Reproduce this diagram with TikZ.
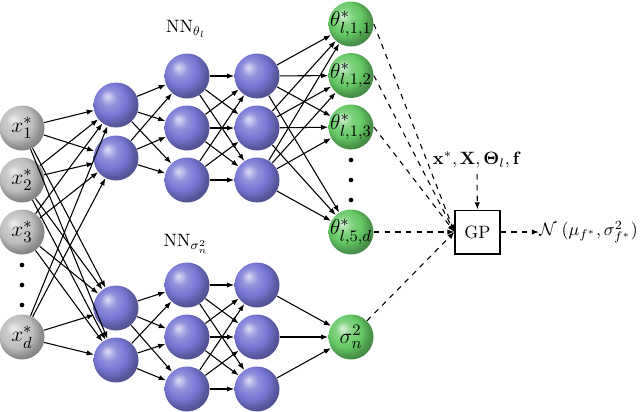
\documentclass[tikz,border=0pt]{standalone}
\usepackage{amsmath}
\usetikzlibrary{arrows.meta,shadings}
\definecolor{nnblue}{RGB}{118,118,212}
\definecolor{nngreen}{RGB}{100,200,100}
\definecolor{nngray}{RGB}{190,190,190}
\pgfdeclareradialshading{blueball}{\pgfqpoint{-10bp}{10bp}}{%
  color(0bp)=(nnblue!25!white); color(9bp)=(nnblue!80!white);
  color(18bp)=(nnblue); color(26bp)=(nnblue!75!black); color(50bp)=(nnblue!30!black)}
\pgfdeclareradialshading{greenball}{\pgfqpoint{-10bp}{10bp}}{%
  color(0bp)=(nngreen!25!white); color(9bp)=(nngreen!80!white);
  color(18bp)=(nngreen); color(26bp)=(nngreen!75!black); color(50bp)=(nngreen!30!black)}
\pgfdeclareradialshading{grayball}{\pgfqpoint{-10bp}{10bp}}{%
  color(0bp)=(nngray!25!white); color(9bp)=(nngray!80!white);
  color(18bp)=(nngray); color(26bp)=(nngray!75!black); color(50bp)=(nngray!30!black)}
\begin{document}
\begin{tikzpicture}[x=0.56pt,y=-0.56pt,
  ballbase/.style={circle,inner sep=0pt,minimum size=25.2pt},
  bball/.style={ballbase,shading=blueball},
  gball/.style={ballbase,shading=greenball},
  iball/.style={ballbase,shading=grayball},
  lbl/.style={font=\fontsize{13}{15}\selectfont,inner sep=0pt},
  dotnode/.style={circle,fill=black,inner sep=0pt,minimum size=2.6pt},
  con/.style={-{Latex[length=4pt,width=3pt]},line width=0.6pt},
  dcon/.style={con,dashed},
  gpbox/.style={draw,line width=0.6pt,minimum width=25.2pt,minimum height=24.6pt,inner sep=0pt}
]
\useasboundingbox (0,0) rectangle (640,411);

% inputs
\node[iball,label={[lbl]center:$x_1^*$}] (x1) at (22,128) {};
\node[iball,label={[lbl]center:$x_2^*$}] (x2) at (22,180) {};
\node[iball,label={[lbl]center:$x_3^*$}] (x3) at (22,232) {};
\node[iball,label={[lbl]center:$x_d^*$}] (xd) at (22,337) {};
\node[dotnode] (xa) at (22,265) {};
\node[dotnode] (xb) at (22,285) {};
\node[dotnode] (xc) at (22,305) {};

% top network
\node[bball] (a1) at (116,105) {};
\node[bball] (a2) at (116,158) {};
\node[bball] (b1) at (187,76) {};
\node[bball] (b2) at (187,128) {};
\node[bball] (b3) at (187,180) {};
\node[bball] (c1) at (257,76) {};
\node[bball] (c2) at (257,128) {};
\node[bball] (c3) at (257,180) {};
\node[gball,label={[lbl]center:$\theta_{l,1,1}^*$}] (t1) at (351,24) {};
\node[gball,label={[lbl]center:$\theta_{l,1,2}^*$}] (t2) at (351,75.5) {};
\node[gball,label={[lbl]center:$\theta_{l,1,3}^*$}] (t3) at (351,127) {};
\node[gball,label={[lbl]center:$\theta_{l,5,d}^*$}] (t4) at (351,232) {};
\node[dotnode] (ta) at (351,160) {};
\node[dotnode] (tb) at (351,180) {};
\node[dotnode] (tc) at (351,200) {};
\node (nnt) at (186,29) {NN$_{\theta_l}$};

% bottom network
\node[bball] (p1) at (116,308) {};
\node[bball] (p2) at (116,360) {};
\node[bball] (q1) at (187,285) {};
\node[bball] (q2) at (187,337) {};
\node[bball] (q3) at (187,389) {};
\node[bball] (r1) at (257,285) {};
\node[bball] (r2) at (257,337) {};
\node[bball] (r3) at (257,389) {};
\node[gball,label={[lbl]center:$\sigma_n^2$}] (s) at (351,337) {};
\node (nns) at (186,244) {NN$_{\sigma_n^2}$};

% GP
\node[gpbox] (gp) at (477.5,232) {GP};
\node (inp) at (477,160) {$\mathbf{x}^*, \mathbf{X}, \mathbf{\Theta}_l, \mathbf{f}$};
\node[anchor=west,inner sep=0pt] (out) at (539,232) {$\mathcal{N}\;(\mu_{f^*}, \sigma^2_{f^*})$};

% connections
\foreach \i in {x1,x2,x3,xd}
  \foreach \j in {a1,a2,p1,p2}
    \draw[con] (\i) -- (\j);
\foreach \i in {a1,a2}
  \foreach \j in {b1,b2,b3}
    \draw[con] (\i) -- (\j);
\foreach \i in {b1,b2,b3}
  \foreach \j in {c1,c2,c3}
    \draw[con] (\i) -- (\j);
\foreach \i in {c1,c2,c3}
  \foreach \j in {t1,t2,t3,t4}
    \draw[con] (\i) -- (\j);
\foreach \i in {p1,p2}
  \foreach \j in {q1,q2,q3}
    \draw[con] (\i) -- (\j);
\foreach \i in {q1,q2,q3}
  \foreach \j in {r1,r2,r3}
    \draw[con] (\i) -- (\j);
\foreach \i in {r1,r2,r3}
  \draw[con] (\i) -- (s);

\foreach \i in {t1,t2,t3,t4}
  \draw[dcon] (\i.east) -- (gp.west);
\draw[dcon] (s) -- (gp.west);
\draw[dcon] (inp) -- (gp);
\draw[dcon] (gp) -- (out);
\end{tikzpicture}
\end{document}
